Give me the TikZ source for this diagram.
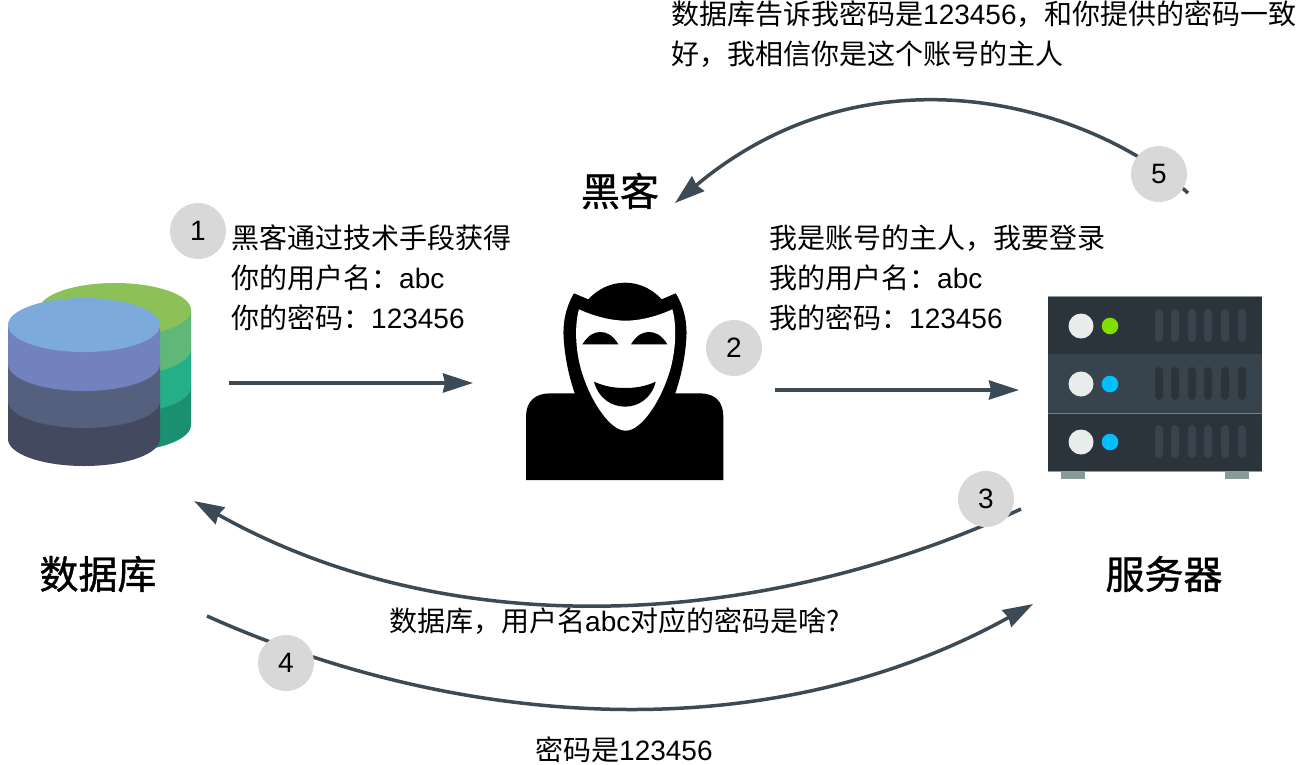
\documentclass[tikz,border=0pt]{standalone}
\usepackage{fontspec}
\setmainfont{Noto Sans CJK SC}
\newfontfamily\titlefont[FakeBold=1]{Noto Sans CJK SC}
\newfontfamily\latfont{Liberation Sans}
\usetikzlibrary{arrows.meta}

\definecolor{flowline}{HTML}{3B4A54}
\definecolor{badgegray}{HTML}{D8D8D8}
\definecolor{rackdark}{HTML}{2B333B}
\definecolor{rackmid}{HTML}{37444E}
\definecolor{rackedge}{HTML}{8C9A9A}
\definecolor{rackfoot}{HTML}{879A97}
\definecolor{rackknob}{HTML}{E8ECEB}
\definecolor{ledgreen}{HTML}{7FE000}
\definecolor{ledblue}{HTML}{00BFFF}
\definecolor{reartop}{HTML}{8BC156}
\definecolor{rearone}{HTML}{60B878}
\definecolor{reartwo}{HTML}{25AF88}
\definecolor{rearthree}{HTML}{1A9070}
\definecolor{fronttop}{HTML}{7CABDB}
\definecolor{frontone}{HTML}{7282BF}
\definecolor{fronttwo}{HTML}{55607F}
\definecolor{frontthree}{HTML}{43495F}

\tikzset{
    flow/.style={draw=flowline,line width=3.5pt,-{Stealth[length=30pt,width=19pt,inset=2pt]}},
    badge/.style={circle,fill=badgegray,minimum size=56pt,inner sep=0pt,font=\fontsize{28}{28}\latfont},
    note/.style={align=left,anchor=north west,inner sep=0pt,font=\fontsize{28}{40}\selectfont},
    title/.style={font=\fontsize{39}{39}\titlefont,inner sep=0pt}
}

% one disc of a stacked cylinder: centre x, top y, bottom y, colour
\newcommand{\discside}[4]{
    \fill[#4] (#1-76,#2) -- (#1-76,#3) arc[start angle=180,end angle=0,x radius=76,y radius=27] -- (#1+76,#2) -- cycle;
}
\newcommand{\lat}[1]{{\latfont #1}}

\begin{document}
\begin{tikzpicture}[x=1pt,y=-1pt,>=Stealth]
    \useasboundingbox (0,0) rectangle (1298,764);

    % Database, rear stack
    \discside{115}{386}{425}{rearthree}
    \discside{115}{348}{387}{reartwo}
    \discside{115}{310}{349}{rearone}
    \fill[reartop] (115,310) ellipse[x radius=76,y radius=27];

    % Database, front stack
    \discside{84}{401}{439}{frontthree}
    \discside{84}{364}{401}{fronttwo}
    \discside{84}{325}{364}{frontone}
    \fill[fronttop] (84,325) ellipse[x radius=76,y radius=27];

    % Hacker
    \begin{scope}[shift={(510,270)},x=1pt/3,y=-1pt/3]
        \fill[black] (48,630) -- (48,440) .. controls (48,395) and (75,370) .. (120,370)
            -- (570,370) .. controls (615,370) and (640,395) .. (640,440) -- (640,630) -- cycle;
        \fill[black] (192,70) -- (235,88) .. controls (265,55) and (305,38) .. (345,38)
            .. controls (385,38) and (425,55) .. (455,88) -- (497,70)
            .. controls (525,115) and (532,165) .. (529,205)
            .. controls (525,270) and (510,330) .. (495,372) -- (195,372)
            .. controls (180,330) and (165,270) .. (161,205)
            .. controls (158,165) and (165,115) .. (192,70) -- cycle;
        \fill[white] (207,118) .. controls (255,140) and (305,152) .. (347,152)
            .. controls (389,152) and (439,140) .. (487,118)
            .. controls (501,165) and (499,250) .. (474,320)
            .. controls (449,395) and (394,482) .. (347,482)
            .. controls (300,482) and (245,395) .. (220,320)
            .. controls (195,250) and (193,165) .. (207,118) -- cycle;
        \fill[black] (217,223) .. controls (235,195) and (252,186) .. (271,186)
            .. controls (290,186) and (308,195) .. (325,223) -- cycle;
        \fill[black] (363,223) .. controls (380,195) and (398,186) .. (417,186)
            .. controls (436,186) and (455,195) .. (472,223) -- cycle;
        \fill[black] (252,335) .. controls (285,350) and (315,354) .. (345,354)
            .. controls (375,354) and (405,350) .. (437,335)
            .. controls (425,385) and (385,410) .. (345,410)
            .. controls (305,410) and (265,385) .. (252,335) -- cycle;
    \end{scope}

    % Server
    \fill[rackfoot] (1061,470) rectangle (1085,479);
    \fill[rackfoot] (1225,470) rectangle (1249,479);
    \fill[rackdark] (1048,297) rectangle (1262,471);
    \fill[rackmid] (1048,354) rectangle (1262,413);
    \draw[rackedge,line width=1pt] (1048,296.5) -- (1262,296.5);
    \draw[rackedge,line width=1pt] (1048,471) -- (1262,471);
    \draw[rackedge!70!rackmid,line width=1pt] (1048,413) -- (1262,413);
    \foreach \y/\led in {326/ledgreen,384/ledblue,442/ledblue} {
        \fill[rackknob] (1081,\y) circle (12.5);
        \fill[\led] (1110,\y) circle (8.3);
    }
    \foreach \x in {1159,1175,1192,1208,1225,1242} {
        \fill[rackmid,rounded corners=4pt] (\x-4,309) rectangle (\x+4,342);
        \fill[rackdark,rounded corners=4pt] (\x-4,367) rectangle (\x+4,400);
        \fill[rackmid,rounded corners=4pt] (\x-4,425) rectangle (\x+4,458);
    }

    % Titles
    \node[title] (dbtitle) at (98,574) {数据库};
    \node[title] (hackertitle) at (620,191) {黑客};
    \node[title] (servertitle) at (1164,574) {服务器};

    % Anchors for the flows
    \coordinate (s1) at (229,383);
    \coordinate (e1) at (473,383);
    \coordinate (s2) at (775,390);
    \coordinate (e2) at (1019,390);
    \coordinate (s3) at (1021,509);
    \coordinate (e3) at (194,501);
    \coordinate (s4) at (207,616);
    \coordinate (e4) at (1033,604);
    \coordinate (s5) at (1188,193);
    \coordinate (e5) at (675,203);

    % Flows
    \draw[flow] (s3) .. controls (760,630) and (450,645) .. (e3);
    \draw[flow] (s4) .. controls (450,725) and (760,755) .. (e4);
    \draw[flow] (s5) .. controls (1090,105) and (870,40) .. (e5);
    \draw[flow] (s1) -- (e1);
    \draw[flow] (s2) -- (e2);

    % Numbered badges
    \node[badge] (n1) at (198,231) {1};
    \node[badge] (n2) at (734,348) {2};
    \node[badge] (n3) at (986,499) {3};
    \node[badge] (n4) at (286,663) {4};
    \node[badge] (n5) at (1159,174) {5};

    % Notes
    \node[note] (note1) at (231,225) {黑客通过技术手段获得\\你的用户名：\lat{abc}\\你的密码：\lat{123456}};
    \node[note] (note2) at (769,225) {我是账号的主人，我要登录\\我的用户名：\lat{abc}\\我的密码：\lat{123456}};
    \node[note] (note3) at (389,607) {数据库，用户名\lat{abc}对应的密码是啥?};
    \node[note] (note4) at (535,736) {密码是\lat{123456}};
    \node[note] (note5) at (671,0) {数据库告诉我密码是\lat{123456}，和你提供的密码一致\\好，我相信你是这个账号的主人};
\end{tikzpicture}
\end{document}
